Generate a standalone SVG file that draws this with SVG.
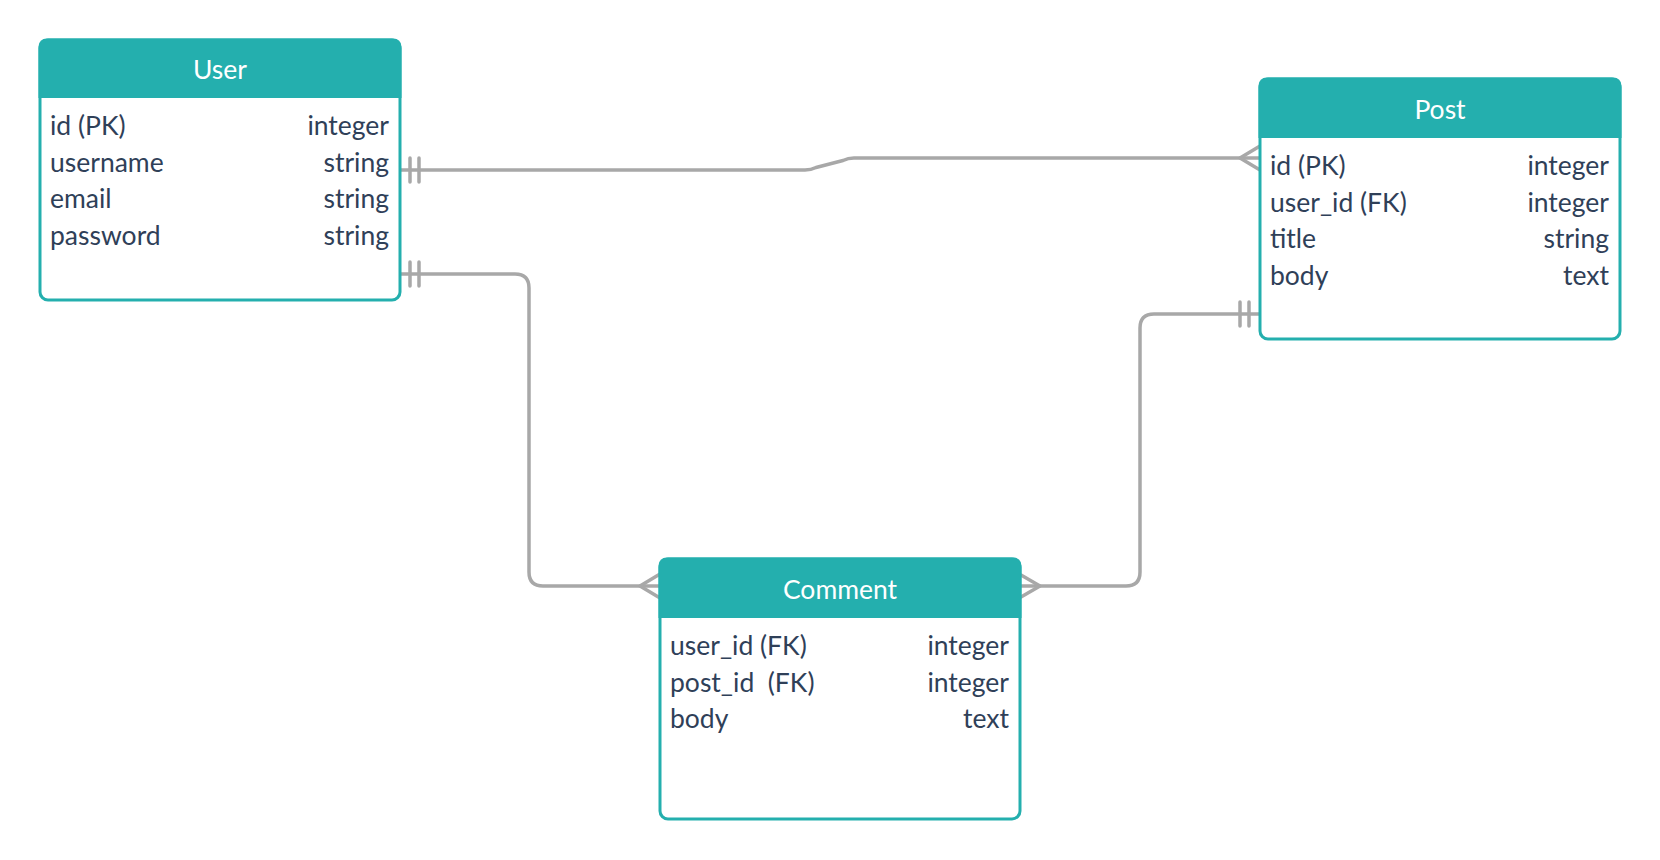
<svg xmlns="http://www.w3.org/2000/svg" width="1660" height="860" viewBox="0 0 1660 860">
<style>
.box{fill:#ffffff;stroke:#24afae;stroke-width:3}
.hdr{fill:#24afae}
.title{font-family:Lato,"Open Sans",sans-serif;font-size:26.5px;fill:#ffffff;text-anchor:middle}
.f{font-family:Lato,"Open Sans",sans-serif;font-size:26.5px;fill:#2f4058;white-space:pre}
.t{font-family:Lato,"Open Sans",sans-serif;font-size:26.5px;fill:#2f4058;text-anchor:end}
.c{fill:none;stroke:#a8a8a8;stroke-width:3.5;stroke-linecap:round;stroke-linejoin:round}
</style>
<rect width="1660" height="860" fill="#ffffff"/>
<g id="connectors">
<path class="c" d="M401 170 H805 Q811 170 816 167.5 L843 160.5 Q848 158 854 158 H1260"/>
<path class="c" d="M1260 146 L1240 158 L1260 170"/>
<path class="c" d="M410 158 V182 M419 158 V182"/>
<path class="c" d="M401 274 H515 Q529 274 529 288 V572 Q529 586 543 586 H660"/>
<path class="c" d="M410 262 V286 M419 262 V286"/>
<path class="c" d="M660 574 L640 586 L660 598"/>
<path class="c" d="M1021 586 H1126 Q1140 586 1140 572 V328 Q1140 314 1154 314 H1260"/>
<path class="c" d="M1021 575 L1040 586 L1021 597"/>
<path class="c" d="M1240 302 V326 M1249 302 V326"/>
</g>
<g id="user">
<rect class="box" x="40" y="40" width="360" height="260" rx="8"/>
<path class="hdr" d="M38.5 98 V46.5 A8 8 0 0 1 46.5 38.5 H393.5 A8 8 0 0 1 401.5 46.5 V98 Z"/>
<text class="title" x="220" y="79">User</text>
<text class="f" x="50" y="135">id (PK)</text><text class="t" x="389" y="135">integer</text>
<text class="f" x="50" y="171.5">username</text><text class="t" x="389" y="171.5">string</text>
<text class="f" x="50" y="208">email</text><text class="t" x="389" y="208">string</text>
<text class="f" x="50" y="244.5">password</text><text class="t" x="389" y="244.5">string</text>
</g>
<g id="post">
<rect class="box" x="1260" y="79" width="360" height="260" rx="8"/>
<path class="hdr" d="M1258.5 138 V85.5 A8 8 0 0 1 1266.5 77.5 H1613.5 A8 8 0 0 1 1621.5 85.5 V138 Z"/>
<text class="title" x="1440" y="119">Post</text>
<text class="f" x="1270" y="175">id (PK)</text><text class="t" x="1609" y="175">integer</text>
<text class="f" x="1270" y="211.5">user_id (FK)</text><text class="t" x="1609" y="211.5">integer</text>
<text class="f" x="1270" y="248">title</text><text class="t" x="1609" y="248">string</text>
<text class="f" x="1270" y="284.5">body</text><text class="t" x="1609" y="284.5">text</text>
</g>
<g id="comment">
<rect class="box" x="660" y="559" width="360" height="260" rx="8"/>
<path class="hdr" d="M658.5 618 V565.5 A8 8 0 0 1 666.5 557.5 H1013.5 A8 8 0 0 1 1021.5 565.5 V618 Z"/>
<text class="title" x="840" y="599">Comment</text>
<text class="f" x="670" y="655">user_id (FK)</text><text class="t" x="1009" y="655">integer</text>
<text class="f" x="670" y="691.5">post_id  (FK)</text><text class="t" x="1009" y="691.5">integer</text>
<text class="f" x="670" y="728">body</text><text class="t" x="1009" y="728">text</text>
</g>
</svg>
